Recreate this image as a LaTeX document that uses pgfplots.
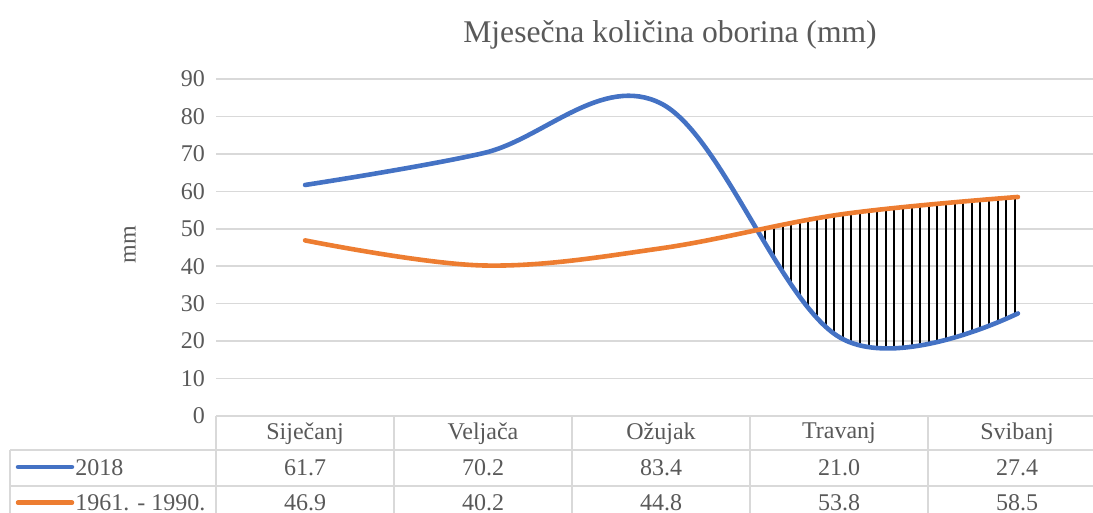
\documentclass[border=0pt]{standalone}
\usepackage{pgfplots}
\pgfplotsset{compat=1.18}
\usepgfplotslibrary{fillbetween}
\usetikzlibrary{patterns.meta}
\usepackage{fontspec}
\setmainfont{Liberation Serif}
\definecolor{cblue}{HTML}{4472C4}
\definecolor{corange}{HTML}{ED7D31}
\definecolor{ctext}{HTML}{595959}
\definecolor{cgrid}{HTML}{D9D9D9}
\newcommand{\fs}{\fontsize{12}{14}\selectfont}
\begin{document}
\begin{tikzpicture}
\begin{axis}[
  at={(108pt,-208pt)}, anchor=south west,
  scale only axis, width=445.5pt, height=168.5pt,
  xmin=-0.5, xmax=4.5, ymin=0, ymax=90,
  xtick=\empty, ytick={0,10,...,90},
  ymajorgrids, grid style={cgrid, line width=0.75pt},
  axis line style={draw=none}, major tick length=0pt,
  /pgf/number format/assume math mode=true,
  yticklabel style={font=\fs, text=ctext, xshift=-2pt},
  clip=false,
]
\addplot[name path=A, cblue, line width=2.3pt, smooth, tension=0.6, line cap=round] coordinates {(0,61.7) (1,70.2) (2,83.4) (3,21.0) (4,27.4)};
\addplot[name path=B, corange, line width=2.3pt, smooth, tension=0.6, line cap=round] coordinates {(0,46.9) (1,40.2) (2,44.8) (3,53.8) (4,58.5)};
\addplot[draw=none, pattern={Lines[angle=90,distance=4.3pt,line width=1pt]}, pattern color=black] fill between[of=A and B, soft clip={domain=2.57:4}];
\end{axis}
\node[font=\fontsize{15.8}{18}\selectfont, text=ctext, anchor=base, inner sep=0pt] at (335pt,-21.5pt) {Mjesečna količina oborina (mm)};
\node[font=\fs, text=ctext, rotate=90, inner sep=0pt] at (65pt,-122.5pt) {mm};
% data table
\begin{scope}[cgrid, line width=0.75pt]
\draw (108pt,-208pt) -- (560pt,-208pt);
\draw (5pt,-225pt) -- (560pt,-225pt);
\draw (5pt,-243pt) -- (560pt,-243pt);
\draw (5pt,-225pt) -- (5pt,-262pt);
\foreach \x in {108,197,286,375,464,553} \draw (\x pt,-208pt) -- (\x pt,-262pt);
\end{scope}
\begin{scope}[every node/.style={font=\fs, text=ctext, inner sep=0pt}]
\foreach \n/\lab in {0/Siječanj,1/Veljača,2/Ožujak,3/Travanj,4/Svibanj}
  \node at ({152.5pt+89pt*\n},-216.8pt) {\lab};
\foreach \n/\v in {0/61.7,1/70.2,2/83.4,3/21.0,4/27.4}
  \node at ({152.5pt+89pt*\n},-233.8pt) {\v};
\foreach \n/\v in {0/46.9,1/40.2,2/44.8,3/53.8,4/58.5}
  \node at ({152.5pt+89pt*\n},-251.5pt) {\v};
\draw[cblue, line width=2.25pt, line cap=round] (9pt,-233.5pt) -- (36pt,-233.5pt);
\draw[corange, line width=2.25pt, line cap=round] (9pt,-251.3pt) -- (36pt,-251.3pt);
\node[anchor=west] at (37.5pt,-233.8pt) {2018};
\node[anchor=west] at (37.5pt,-251.5pt) {1961. - 1990.};
\end{scope}
\pgfresetboundingbox
\useasboundingbox (0,0) rectangle (546.5pt,-256.5pt);
\end{tikzpicture}
\end{document}
